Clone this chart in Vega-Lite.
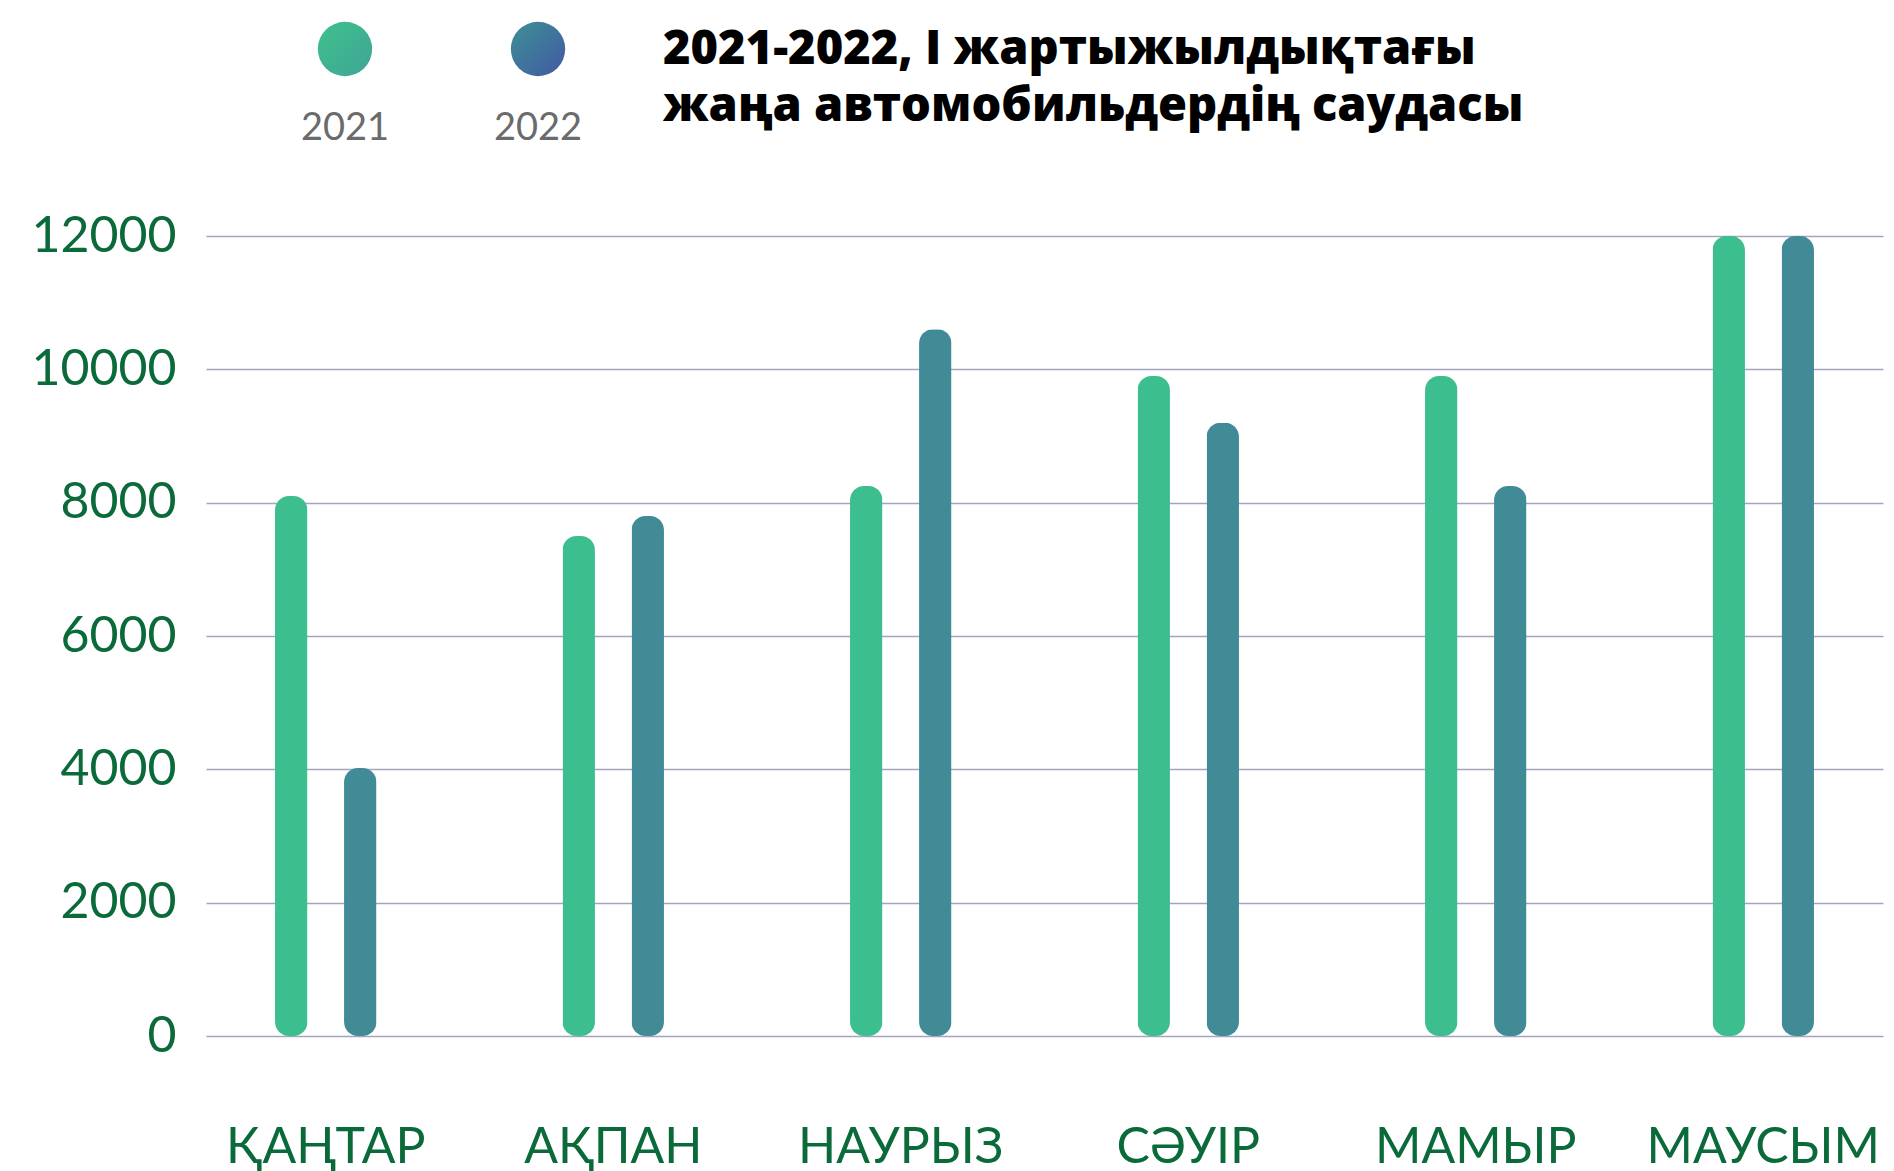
{
  "$schema": "https://vega.github.io/schema/vega-lite/v6.json",
  "background": "white",
  "padding": {"left": 30, "top": 21, "right": 5, "bottom": 0},
  "bounds": "flush",
  "spacing": 160,
  "config": {"view": {"stroke": null}, "font": "Lato"},
  "vconcat": [
    {
      "width": 471,
      "height": 54,
      "data": {"values": [{"year": "2021"}, {"year": "2022"}]},
      "encoding": {
        "x": {"field": "year", "type": "nominal", "scale": {"type": "point", "padding": 0.72}, "axis": null}
      },
      "layer": [
        {
          "transform": [{"filter": "datum.year === '2021'"}],
          "mark": {"type": "point", "filled": true, "size": 2950, "opacity": 1,
            "color": {"gradient": "linear", "x1": 0, "y1": 0, "x2": 1, "y2": 1,
              "stops": [{"offset": 0, "color": "#3fc08b"}, {"offset": 1, "color": "#3fa597"}]}}
        },
        {
          "transform": [{"filter": "datum.year === '2022'"}],
          "mark": {"type": "point", "filled": true, "size": 2950, "opacity": 1,
            "color": {"gradient": "linear", "x1": 0, "y1": 0, "x2": 1, "y2": 1,
              "stops": [{"offset": 0, "color": "#3e8f96"}, {"offset": 1, "color": "#4259a2"}]}}
        },
        {
          "mark": {"type": "text", "dy": 80, "fontSize": 38, "color": "#6b6b6b", "font": "Lato"},
          "encoding": {"text": {"field": "year"}}
        }
      ]
    },
    {
      "width": 1677,
      "height": 800,
      "title": {
        "text": ["2021-2022, І жартыжылдықтағы", "жаңа автомобильдердің саудасы"],
        "anchor": "start", "frame": "group", "dx": 457, "offset": 57, "baseline": "middle",
        "font": "Open Sans", "fontWeight": 800, "fontSize": 47, "lineHeight": 57, "color": "#000000"
      },
      "data": {
        "values": [
          {"month": "ҚАҢТАР", "year": "2021", "value": 8100},
          {"month": "ҚАҢТАР", "year": "2022", "value": 4020},
          {"month": "АҚПАН", "year": "2021", "value": 7500},
          {"month": "АҚПАН", "year": "2022", "value": 7800},
          {"month": "НАУРЫЗ", "year": "2021", "value": 8250},
          {"month": "НАУРЫЗ", "year": "2022", "value": 10600},
          {"month": "СӘУІР", "year": "2021", "value": 9900},
          {"month": "СӘУІР", "year": "2022", "value": 9200},
          {"month": "МАМЫР", "year": "2021", "value": 9900},
          {"month": "МАМЫР", "year": "2022", "value": 8250},
          {"month": "МАУСЫМ", "year": "2021", "value": 12000},
          {"month": "МАУСЫМ", "year": "2022", "value": 12000}
        ]
      },
      "mark": {"type": "bar", "cornerRadius": 14},
      "encoding": {
        "x": {
          "field": "month", "type": "nominal",
          "sort": ["ҚАҢТАР", "АҚПАН", "НАУРЫЗ", "СӘУІР", "МАМЫР", "МАУСЫМ"],
          "scale": {"paddingInner": 0.167, "paddingOuter": 0},
          "axis": {"title": null, "labelAngle": 0, "labelFontSize": 50, "labelFont": "Lato", "labelColor": "#0b6a3a",
            "labelPadding": 86, "labelLimit": 500, "labelOverlap": false, "domain": false, "ticks": false, "grid": false}
        },
        "xOffset": {"field": "year", "type": "nominal", "scale": {"paddingInner": 0.53, "paddingOuter": 1.026}},
        "y": {
          "field": "value", "type": "quantitative",
          "scale": {"domain": [0, 12000], "nice": false},
          "axis": {"title": null, "values": [0, 2000, 4000, 6000, 8000, 10000, 12000], "labelFontSize": 50,
            "labelFont": "Lato", "labelColor": "#0b6a3a", "labelPadding": 30, "domain": false, "ticks": false,
            "grid": true, "gridColor": "#a4a4c0", "gridWidth": 1.5, "format": "d"}
        },
        "color": {"field": "year", "type": "nominal", "scale": {"domain": ["2021", "2022"], "range": ["#3dbe8e", "#418b97"]}, "legend": null}
      }
    }
  ]
}
